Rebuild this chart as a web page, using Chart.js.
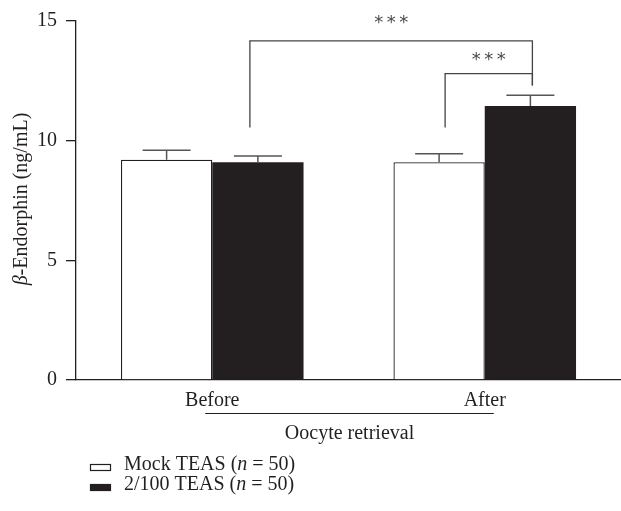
<!DOCTYPE html>
<html>
<head>
<meta charset="utf-8">
<script src="https://cdn.jsdelivr.net/npm/chart.js@4.4.0/dist/chart.umd.min.js"></script>
<style>
    html, body { margin: 0; padding: 0; background: #fff; }
    #wrap { width: 621px; height: 511px; }
</style>
</head>
<body>
<div id="wrap"><canvas id="chart"></canvas></div>
<script>
// Data
const categories = ['Before', 'After'];
const mockValues = [9.2, 9.1];
const teasValues = [9.1, 11.45];
const mockErrors = [0.4, 0.35];
const teasErrors = [0.26, 0.45];
const yTicks = [0, 5, 10, 15];

// significance brackets (values in ng/mL)
const brackets = [
    { from: [1, 0], to: [1, 1], legLow: 10.55, rightLow: 12.3, top: 14.17, starY: 14.95 },
    { from: [0, 1], to: [1, 1], legLow: 10.55, rightLow: 12.3, top: 12.8, starY: 13.4 }
];

const INK = '#231f20';
const GREY = '#555555';
const SERIF = '"Liberation Serif", "DejaVu Serif", serif';
const FONT_SIZE = 20;

const extras = {
    id: 'extras',
    afterDatasetsDraw(chart) {
        const ctx = chart.ctx;
        const y = chart.scales.y;
        const errs = [mockErrors, teasErrors];
        const vals = [mockValues, teasValues];

        ctx.save();

        // error bars
        ctx.strokeStyle = GREY;
        ctx.lineWidth = 1.5;
        [0, 1].forEach(ds => {
            chart.getDatasetMeta(ds).data.forEach((bar, i) => {
                const top = y.getPixelForValue(vals[ds][i] + errs[ds][i]);
                ctx.beginPath();
                ctx.moveTo(bar.x, bar.y);
                ctx.lineTo(bar.x, top);
                ctx.moveTo(bar.x - 24, top);
                ctx.lineTo(bar.x + 24, top);
                ctx.stroke();
            });
        });

        // brackets
        ctx.strokeStyle = '#444';
        ctx.lineWidth = 1.3;
        brackets.forEach(b => {
            const x1 = chart.getDatasetMeta(b.from[0]).data[b.from[1]].x - (b.from[0] === 1 ? 8 : -6);
            const x2 = chart.getDatasetMeta(b.to[0]).data[b.to[1]].x + 2;
            const yl = y.getPixelForValue(b.legLow);
            const yr = y.getPixelForValue(b.rightLow);
            const yt = y.getPixelForValue(b.top);
            ctx.beginPath();
            ctx.moveTo(x1, yl);
            ctx.lineTo(x1, yt);
            ctx.lineTo(x2, yt);
            ctx.lineTo(x2, yr);
            ctx.stroke();

            const cx = (x1 + x2) / 2;
            const sy = y.getPixelForValue(b.starY);
            ctx.fillStyle = '#4a4a4a';
            ctx.font = '18px "DejaVu Sans", sans-serif';
            ctx.textAlign = 'center';
            ctx.textBaseline = 'middle';
            [-12.5, 0, 12.5].forEach(dx => ctx.fillText('*', cx + dx, sy + 1));
        });

        ctx.restore();
    },
    afterDraw(chart) {
        const ctx = chart.ctx;
        const x = chart.scales.x;
        ctx.save();
        ctx.fillStyle = INK;
        ctx.strokeStyle = INK;

        // group line + label
        const gx1 = x.getPixelForValue(0) - 7;
        const gx2 = x.getPixelForValue(1) + 9;
        ctx.lineWidth = 1.2;
        ctx.beginPath();
        ctx.moveTo(gx1, 413.5);
        ctx.lineTo(gx2, 413.5);
        ctx.stroke();
        ctx.font = FONT_SIZE + 'px ' + SERIF;
        ctx.textAlign = 'center';
        ctx.textBaseline = 'middle';
        ctx.fillText('Oocyte retrieval', (gx1 + gx2) / 2, 434);

        // y title with italic beta
        ctx.save();
        ctx.translate(22, 199);
        ctx.rotate(-Math.PI / 2);
        const italic = 'italic ' + FONT_SIZE + 'px ' + SERIF;
        const upright = FONT_SIZE + 'px ' + SERIF;
        ctx.font = italic;
        const wb = ctx.measureText('β').width;
        ctx.font = upright;
        const rest = '-Endorphin (ng/mL)';
        const wr = ctx.measureText(rest).width;
        const sx = -(wb + wr) / 2;
        ctx.textAlign = 'left';
        ctx.font = italic;
        ctx.fillText('β', sx, 0);
        ctx.font = upright;
        ctx.fillText(rest, sx + wb, 0);
        ctx.restore();

        // legend
        const labels = [['Mock TEAS (', 'n', ' = 50)'], ['2/100 TEAS (', 'n', ' = 50)']];
        chart.data.datasets.forEach((ds, i) => {
            const ly = 465 + i * 20;
            ctx.fillStyle = ds.backgroundColor;
            ctx.fillRect(90, ly - 1, 21, 7);
            ctx.strokeStyle = INK;
            ctx.lineWidth = 1.2;
            ctx.strokeRect(90.5, ly - 0.5, 20, 6);
            ctx.fillStyle = INK;
            ctx.textAlign = 'left';
            let tx = 124;
            labels[i].forEach((part, k) => {
                ctx.font = (k === 1 ? 'italic ' : '') + FONT_SIZE + 'px ' + SERIF;
                ctx.fillText(part, tx, ly);
                tx += ctx.measureText(part).width;
            });
        });

        ctx.restore();
    }
};

new Chart(document.getElementById('chart'), {
    type: 'bar',
    data: {
        labels: categories,
        datasets: [
            {
                label: 'Mock TEAS (n = 50)',
                data: mockValues,
                backgroundColor: '#ffffff',
                borderColor: INK,
                borderWidth: 1.3,
                categoryPercentage: 0.67,
                barPercentage: 1.0
            },
            {
                label: '2/100 TEAS (n = 50)',
                data: teasValues,
                backgroundColor: INK,
                borderWidth: 0,
                categoryPercentage: 0.67,
                barPercentage: 1.0
            }
        ]
    },
    options: {
        responsive: true,
        maintainAspectRatio: false,
        animation: false,
        layout: { padding: { top: 15, right: 0, left: 0, bottom: 0 } },
        plugins: {
            legend: { display: false },
            tooltip: { enabled: false }
        },
        scales: {
            x: {
                grid: { display: false, drawTicks: false },
                border: { display: true, color: INK, width: 1.3 },
                ticks: {
                    color: INK,
                    padding: 9,
                    font: { family: SERIF, size: FONT_SIZE }
                },
                afterFit(scale) { scale.height = 131; }
            },
            y: {
                min: 0,
                max: 15,
                afterBuildTicks(scale) { scale.ticks = yTicks.map(v => ({ value: v })); },
                grid: { drawOnChartArea: false, tickLength: 10, color: INK, lineWidth: 1.3 },
                border: { display: true, color: INK, width: 1.3 },
                ticks: {
                    color: INK,
                    padding: 9,
                    font: { family: SERIF, size: FONT_SIZE }
                },
                afterFit(scale) { scale.width = 76; }
            }
        }
    },
    plugins: [extras]
});
</script>
</body>
</html>
